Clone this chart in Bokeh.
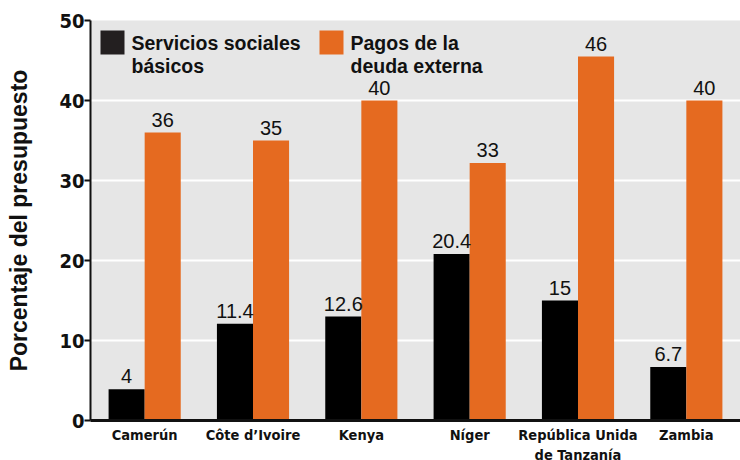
from bokeh.plotting import figure
from bokeh.models import (FactorRange, ColumnDataSource, FixedTicker,
                          GlobalInlineStyleSheet, Label, BoxAnnotation)
from bokeh.transform import dodge
from bokeh.core.properties import value
from bokeh.embed import file_html
from bokeh.resources import INLINE

countries = ["Camerún", "Côte d’Ivoire", "Kenya", "Níger",
             "República Unida\nde Tanzanía", "Zambia"]
# bar heights (percent of budget)
servicios = [3.9, 12.1, 13.0, 20.8, 15.0, 6.7]
deuda = [36.0, 35.0, 40.0, 32.2, 45.5, 40.0]
# printed value labels
servicios_lbl = ["4", "11.4", "12.6", "20.4", "15", "6.7"]
deuda_lbl = ["36", "35", "40", "33", "46", "40"]
series_names = ["Servicios sociales\nbásicos", "Pagos de la\ndeuda externa"]
y_ticks = [0, 10, 20, 30, 40, 50]

BLACK = "#000000"
LEG_BLACK = "#231F20"
ORANGE = "#E56A20"
BG = "#E6E6E6"
COND = "DejaVu Sans Condensed"
SANS = "Liberation Sans"
INK = "#111111"

src = ColumnDataSource(dict(cat=countries, s=servicios, d=deuda,
                            sl=servicios_lbl, dl=deuda_lbl))

p = figure(x_range=FactorRange(*countries, range_padding=0), y_range=(0, 50),
           frame_width=650, frame_height=400,
           output_backend="svg", toolbar_location=None,
           min_border_left=90, min_border_top=20, min_border_right=0,
           min_border_bottom=10,
           background_fill_color=BG, border_fill_color="white",
           outline_line_color=None,
           stylesheets=[GlobalInlineStyleSheet(css="html, body { overflow: hidden; }")])

bw = 0.333
p.vbar(x=dodge("cat", -bw / 2, range=p.x_range), top="s", width=bw,
       source=src, fill_color=BLACK, line_color=None)
p.vbar(x=dodge("cat", bw / 2, range=p.x_range), top="d", width=bw,
       source=src, fill_color=ORANGE, line_color=None)

p.text(x=dodge("cat", -bw / 2, range=p.x_range), y="s", text="sl", source=src,
       text_align="center", text_baseline="bottom", y_offset=-6,
       text_font=value(SANS), text_font_size="20px", text_color=INK)
p.text(x=dodge("cat", bw / 2, range=p.x_range), y="d", text="dl", source=src,
       text_align="center", text_baseline="bottom", y_offset=-6,
       text_font=value(SANS), text_font_size="20px", text_color=INK)

# grid
p.xgrid.grid_line_color = None
p.ygrid.grid_line_color = "white"
p.ygrid.grid_line_width = 2
p.ygrid.ticker = FixedTicker(ticks=y_ticks)

# y axis
p.yaxis.ticker = FixedTicker(ticks=y_ticks)
p.yaxis.axis_label = "Porcentaje del presupuesto"
p.yaxis.axis_label_text_font = SANS
p.yaxis.axis_label_text_font_style = "bold"
p.yaxis.axis_label_text_font_size = "23px"
p.yaxis.axis_label_text_color = INK
p.yaxis.axis_label_standoff = 24
p.yaxis.axis_line_width = 2
p.yaxis.axis_line_color = INK
p.yaxis.major_tick_line_width = 2
p.yaxis.major_tick_line_color = INK
p.yaxis.major_tick_out = 6
p.yaxis.major_tick_in = 0
p.yaxis.minor_tick_line_color = None
p.yaxis.major_label_text_font = COND
p.yaxis.major_label_text_font_style = "bold"
p.yaxis.major_label_text_font_size = "20px"
p.yaxis.major_label_text_color = INK
p.yaxis.major_label_standoff = 0

# x axis
p.xaxis.axis_line_width = 3
p.xaxis.axis_line_color = INK
p.xaxis.major_tick_line_color = None
p.xaxis.minor_tick_line_color = None
p.xaxis.major_label_text_font = COND
p.xaxis.major_label_text_font_style = "bold"
p.xaxis.major_label_text_font_size = "14.5px"
p.xaxis.major_label_text_line_height = 1.3
p.xaxis.major_label_text_color = INK
p.xaxis.major_label_standoff = 0
p.xaxis.major_label_orientation = "horizontal"

# legend (drawn as annotations to match the two-line layout)
for left, color, name in [(10, LEG_BLACK, series_names[0]),
                          (229, ORANGE, series_names[1])]:
    p.add_layout(BoxAnnotation(left=left, right=left + 24,
                               left_units="screen", right_units="screen",
                               top=48.75, bottom=45.75,
                               fill_color=color, fill_alpha=1, line_color=None))
    p.add_layout(Label(x=left + 31, y=48.6, x_units="screen", y_units="data",
                       text=name, text_baseline="top", text_align="left",
                       text_font=SANS, text_font_style="bold",
                       text_font_size="19.5px", text_line_height=1.05,
                       text_color=INK))

open("out.html", "w").write(file_html(p, INLINE))
